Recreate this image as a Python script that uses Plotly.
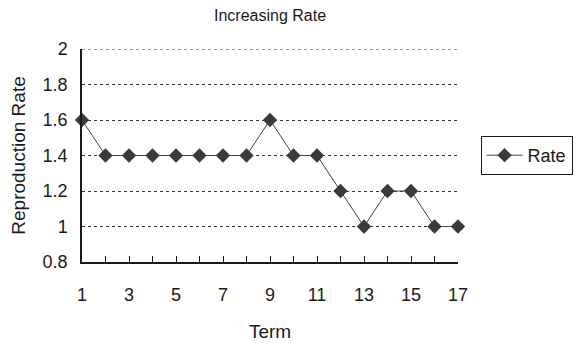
import plotly.graph_objects as go

terms = list(range(1, 18))
rate = [1.6, 1.4, 1.4, 1.4, 1.4, 1.4, 1.4, 1.4, 1.6, 1.4, 1.4, 1.2, 1.0, 1.2, 1.2, 1.0, 1.0]
x_tick_labels = [str(t) if t % 2 == 1 else "" for t in terms]
y_ticks = [0.8, 1.0, 1.2, 1.4, 1.6, 1.8, 2.0]
y_tick_labels = ["0.8", "1", "1.2", "1.4", "1.6", "1.8", "2"]

FONT = "Liberation Sans, Arial, sans-serif"
INK = "#1a1a1a"
GRID = "#333333"

fig = go.Figure()
fig.add_trace(go.Scatter(
    x=terms, y=rate, name="Rate", mode="lines+markers",
    line=dict(color="#444444", width=1),
    marker=dict(symbol="diamond", size=11, color="#3a3a3a"),
    cliponaxis=False,
))

# dashed gridline along the top of the value range
fig.add_shape(type="line", xref="paper", x0=0, x1=1, yref="y",
              y0=max(y_ticks), y1=max(y_ticks),
              line=dict(color=GRID, width=1, dash="3px,3px"), layer="below")

fig.update_layout(
    width=574, height=343,
    margin=dict(l=82, r=116, t=49, b=81, autoexpand=False),
    paper_bgcolor="white", plot_bgcolor="white",
    font=dict(family=FONT, size=16, color=INK),
    title=dict(text="Increasing Rate", x=(82 + 458) / 2 / 574, xanchor="center",
               y=1 - 15 / 343, yanchor="middle", font=dict(size=16, family=FONT)),
    showlegend=True,
    legend=dict(x=1.06, y=0.5, xanchor="left", yanchor="middle",
                bordercolor=INK, borderwidth=1, font=dict(size=18),
                itemwidth=36, tracegroupgap=0),
)

fig.update_xaxes(
    range=[1, 17], tickvals=terms, ticktext=x_tick_labels,
    ticks="inside", ticklen=6, tickcolor=INK, tickwidth=1,
    showline=True, linecolor=INK, linewidth=1.5,
    showgrid=False, zeroline=False, ticklabelstandoff=16, automargin=False,
    title=dict(text="Term", standoff=20), tickfont=dict(size=18),
)
fig.update_yaxes(
    range=[0.8, 2.0], tickvals=y_ticks, ticktext=y_tick_labels,
    ticks="", showline=True, linecolor=INK, linewidth=1.5,
    showgrid=True, gridcolor=GRID, gridwidth=1, griddash="3px,3px",
    zeroline=False, ticklabelstandoff=9, automargin=False,
    title=dict(text="Reproduction Rate", standoff=12), tickfont=dict(size=18),
)

fig.write_html("out.html")
